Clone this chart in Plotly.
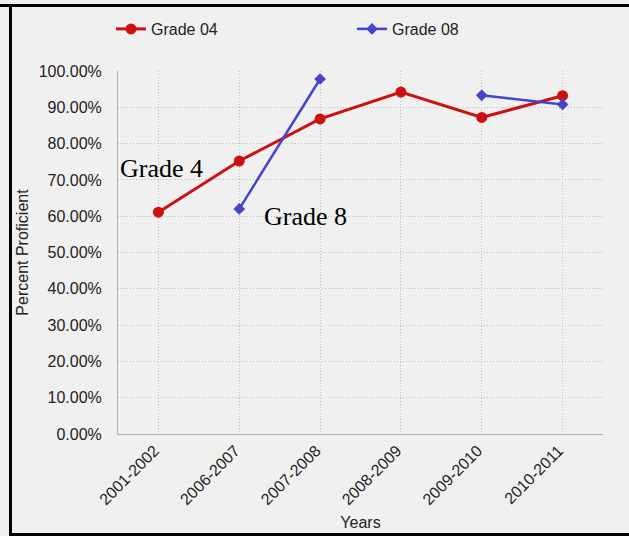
import plotly.graph_objects as go

years = ["2001-2002", "2006-2007", "2007-2008", "2008-2009", "2009-2010", "2010-2011"]
grade04 = [61.1, 75.2, 86.8, 94.2, 87.2, 93.2]
grade08 = [None, 62.0, 97.8, None, 93.3, 90.8]
y_ticks = [0, 10, 20, 30, 40, 50, 60, 70, 80, 90, 100]
y_ticktext = ["0.00%", "10.00%", "20.00%", "30.00%", "40.00%", "50.00%",
              "60.00%", "70.00%", "80.00%", "90.00%", "100.00%"]

W, H = 629, 536
L, R, T, B = 118, 603, 71, 434
pw, ph = R - L, B - T

def px(x):
    return (x - L) / pw

def py(y):
    return (B - y) / ph

bg = "#f0f0f0"
fnt = "Liberation Sans, Arial, sans-serif"
serif = "Liberation Serif, Times New Roman, serif"
gridc = "#bdbdbd"

fig = go.Figure()
fig.add_trace(go.Scatter(
    x=years, y=grade04, name="Grade 04", mode="lines+markers",
    line=dict(color="#cc1111", width=3),
    marker=dict(symbol="circle", size=11, color="#cc1111"),
))
fig.add_trace(go.Scatter(
    x=years, y=grade08, name="Grade 08", mode="lines+markers",
    line=dict(color="#4444cc", width=2.5),
    marker=dict(symbol="diamond", size=9, color="#4444cc"),
    connectgaps=False,
))

fig.update_layout(
    width=W, height=H,
    margin=dict(l=L, r=W - R, t=T, b=H - B, autoexpand=False),
    paper_bgcolor=bg, plot_bgcolor=bg,
    font=dict(family=fnt, size=16, color="#222222"),
    showlegend=True,
    legend=dict(
        orientation="h", x=px(111), y=py(29), xanchor="left", yanchor="middle",
        bgcolor="rgba(0,0,0,0)", font=dict(size=16, color="#222222"),
        itemwidth=30, entrywidth=196, entrywidthmode="pixels",
    ),
    xaxis=dict(
        type="category", range=[-0.5, 5.5], automargin=False,
        showgrid=True, gridcolor=gridc, griddash="1px,2px", gridwidth=1,
        showline=True, linecolor="#b0b0b0", linewidth=1,
        tickangle=-45, tickfont=dict(size=16, color="#222222"),
        ticklabelshift=-4,
        zeroline=False,
        title=dict(text="Years", font=dict(size=16, color="#222222"), standoff=9),
    ),
    yaxis=dict(
        range=[0, 100], tickvals=y_ticks, ticktext=y_ticktext, automargin=False,
        showgrid=True, gridcolor=gridc, griddash="1px,2px", gridwidth=1,
        showline=True, linecolor="#b0b0b0", linewidth=1,
        zeroline=False, ticklabelstandoff=12,
        tickfont=dict(size=16, color="#222222"),
        title=dict(text="Percent Proficient", font=dict(size=16, color="#222222"), standoff=6),
    ),
    annotations=[
        dict(text="Grade 4", xref="paper", yref="paper", x=px(161), y=py(168),
             xanchor="center", yanchor="middle",
             showarrow=False, font=dict(family=serif, size=26, color="#000000")),
        dict(text="Grade 8", xref="paper", yref="paper", x=px(305), y=py(216),
             xanchor="center", yanchor="middle",
             showarrow=False, font=dict(family=serif, size=26, color="#000000")),
    ],
    shapes=[
        dict(type="line", xref="paper", yref="paper", x0=px(0), x1=px(629), y0=py(5.5), y1=py(5.5),
             line=dict(color="#000000", width=3)),
        dict(type="line", xref="paper", yref="paper", x0=px(10.5), x1=px(10.5), y0=py(4), y1=py(536),
             line=dict(color="#000000", width=3)),
        dict(type="line", xref="paper", yref="paper", x0=px(9), x1=px(629), y0=py(534.5), y1=py(534.5),
             line=dict(color="#000000", width=3)),
    ],
)

fig.write_html("out.html", config={"displayModeBar": False},
               post_script="document.body.style.margin='0';document.body.style.overflow='hidden';")
